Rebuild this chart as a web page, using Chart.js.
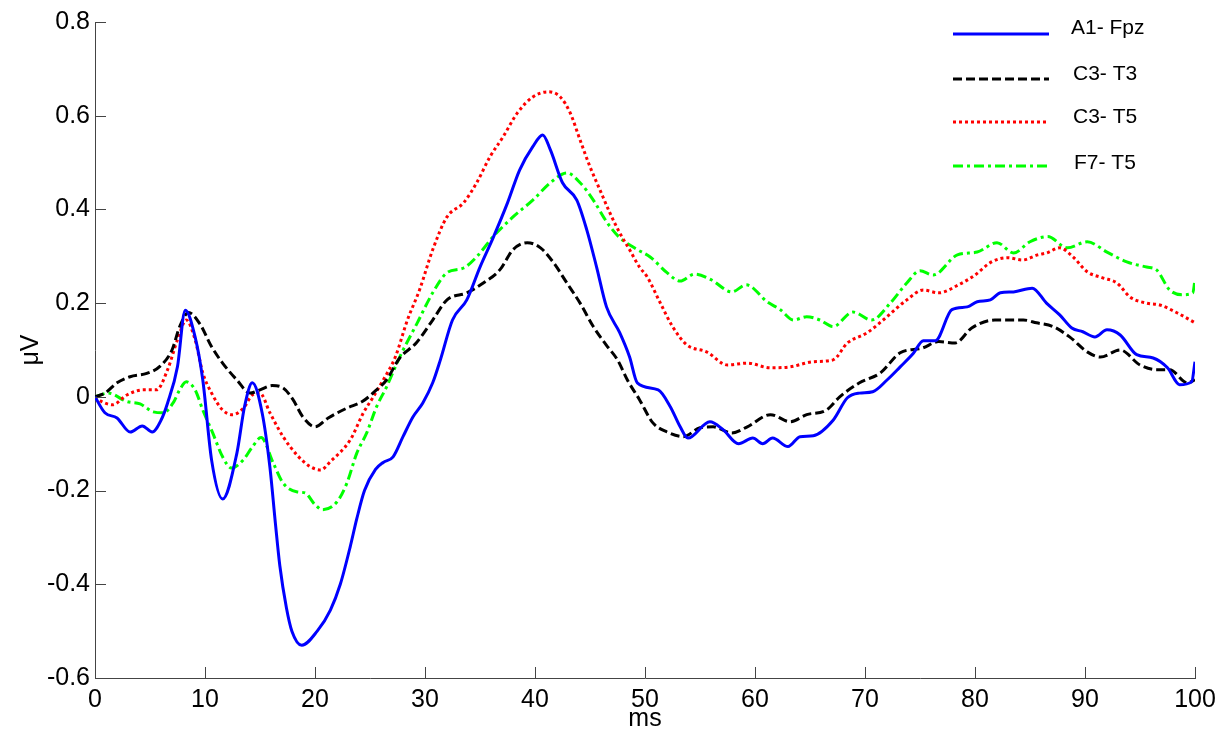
<!DOCTYPE html>
<html>
<head>
<meta charset="utf-8">
<script src="https://cdn.jsdelivr.net/npm/chart.js@4.4.1/dist/chart.umd.min.js"></script>
<style>
  body { margin: 0; background: #fff; }
  #c { display: block; }
</style>
</head>
<body>
<canvas id="c" width="1229" height="734"></canvas>
<script>
// tick labels
const xTicks = [0, 10, 20, 30, 40, 50, 60, 70, 80, 90, 100];
const yTicks = [-0.6, -0.4, -0.2, 0, 0.2, 0.4, 0.6, 0.8];

const seriesNames = ['A1- Fpz', 'C3- T3', 'C3- T5', 'F7- T5'];

// A1- Fpz (ms, uV)
const msA = [0, 0.9, 2, 3.2, 4.3, 5.2, 6, 6.6, 7.5, 8.2, 9.1, 9.8, 10.6, 11.6, 12.9, 13.6, 14.3, 15.2, 15.9, 16.4, 16.8, 17.4, 17.9, 18.8,
  20.2, 21.4, 22.3, 23.2, 23.8, 24.5, 25.5, 26.2, 27.1, 28, 28.9, 29.8, 30.7, 31.4, 32.5, 33.8, 35, 36.2, 37.5, 38.6, 39.8, 40.7,
  41.4, 42.5, 43.8, 44.7, 45.6, 46.5, 47.7, 48.6, 49.3, 51.2, 52.3, 53.2, 53.9, 55.9, 57.1, 58.5, 59.8, 60.7, 61.6, 63, 64.1, 65.3,
  67.1, 68.4, 69.5, 70.7, 72, 73.2, 74.4, 75.3, 76.4, 77.9, 79.3, 80.2, 81.4, 82.3, 83.5, 85.2, 86.5, 87.7, 88.8, 89.8, 90.9, 92,
  93.2, 94.7, 96.2, 97.5, 98.6, 99.7, 100];
const valA = [0, -0.034, -0.045, -0.075, -0.062, -0.075, -0.05, -0.013, 0.065, 0.185, 0.128, 0.036, -0.135, -0.218, -0.12, -0.02, 0.03, -0.035, -0.15, -0.27, -0.36, -0.45, -0.50, -0.53,
  -0.50, -0.455, -0.40, -0.32, -0.26, -0.20, -0.155, -0.14, -0.128, -0.085, -0.043, -0.013, 0.03, 0.079, 0.164, 0.207, 0.277, 0.34, 0.414, 0.484, 0.534, 0.559,
  0.527, 0.457, 0.42, 0.357, 0.277, 0.192, 0.137, 0.085, 0.03, 0.015, -0.021, -0.064, -0.088, -0.053, -0.07, -0.10, -0.088, -0.10, -0.088, -0.106, -0.085, -0.083,
  -0.05, -0.002, 0.008, 0.011, 0.036, 0.064, 0.093, 0.12, 0.12, 0.186, 0.192, 0.203, 0.207, 0.222, 0.224, 0.232, 0.20, 0.175, 0.147, 0.139, 0.128, 0.143,
  0.132, 0.09, 0.083, 0.062, 0.026, 0.032, 0.075];

// C3- T3
const msB = [0, 0.9, 2, 3.2, 4.7, 5.9, 7, 7.7, 8.5, 9.5, 10.6, 11.6, 12.9, 14.1, 15, 16.1, 17.1, 18, 18.9, 20, 21.2, 22.9, 24.3, 25.6,
  26.5, 27.7, 29.2, 30.7, 32, 33.8, 35.3, 36.8, 38, 39.3, 40.5, 41.7, 42.9, 44.1, 45.3, 46.5, 47.5, 48.4, 49.5, 50.7, 52, 53.5,
  55, 56.2, 57.9, 59.3, 61.4, 63.2, 64.7, 66.5, 67.7, 69.5, 71.4, 73.2, 75.2, 76.7, 78.2, 79.7, 81.8, 84.4, 85.6, 87.1, 88.6, 90.2,
  91.4, 93.2, 95, 96.5, 97.7, 99.3, 100];
const valB = [0, 0.008, 0.03, 0.043, 0.05, 0.065, 0.10, 0.15, 0.18, 0.157, 0.107, 0.072, 0.036, 0.008, 0.015, 0.024, 0.019, -0.006, -0.043, -0.064, -0.045, -0.024, -0.01, 0.015,
  0.036, 0.083, 0.115, 0.164, 0.207, 0.222, 0.243, 0.271, 0.314, 0.329, 0.318, 0.286, 0.243, 0.2, 0.15, 0.11, 0.079, 0.036, -0.006, -0.055, -0.075, -0.085,
  -0.066, -0.064, -0.077, -0.064, -0.038, -0.053, -0.038, -0.028, 0, 0.03, 0.051, 0.094, 0.104, 0.118, 0.115, 0.147, 0.164, 0.164, 0.158, 0.15, 0.128, 0.096,
  0.085, 0.1, 0.068, 0.058, 0.058, 0.03, 0.036];

// C3- T5
const msC = [0, 0.6, 1.6, 2.9, 4.4, 5.6, 6.6, 7.5, 8.3, 9.1, 9.8, 10.6, 11.6, 12.5, 13.5, 14.3, 15, 15.9, 17.1, 18.4, 19.5, 20.5, 21.4, 23.2,
  24.4, 25.3, 26.2, 27.3, 28.4, 29.5, 30.7, 32, 33.5, 34.7, 35.9, 37.1, 38.4, 39.8, 41.2, 42.3, 43.2, 44.1, 45, 45.9, 46.8, 47.7,
  48.6, 49.5, 50.2, 51.4, 52.5, 53.8, 55.6, 57.5, 59.3, 61.4, 63.2, 65.3, 67.1, 68.4, 70.2, 72, 73.8, 75.3, 76.7, 78.5, 80, 81.5,
  83, 84.3, 85.7, 86.5, 87.7, 88.9, 90.2, 91.6, 92.9, 94.1, 95.6, 96.8, 98.4, 100];
const valC = [0, -0.01, -0.017, 0.004, 0.015, 0.015, 0.058, 0.122, 0.164, 0.122, 0.051, 0.008, -0.028, -0.038, -0.024, 0.004, 0.008, -0.034, -0.085, -0.125, -0.148, -0.156, -0.138, -0.092,
  -0.034, 0, 0.036, 0.085, 0.164, 0.228, 0.314, 0.384, 0.414, 0.457, 0.512, 0.555, 0.606, 0.64, 0.651, 0.64, 0.606, 0.548, 0.491, 0.442, 0.393, 0.35,
  0.314, 0.277, 0.256, 0.2, 0.15, 0.111, 0.096, 0.068, 0.072, 0.062, 0.064, 0.075, 0.079, 0.115, 0.137, 0.171, 0.207, 0.228, 0.222, 0.239, 0.26, 0.288,
  0.297, 0.292, 0.303, 0.307, 0.318, 0.299, 0.267, 0.254, 0.243, 0.213, 0.2, 0.196, 0.179, 0.158];

// F7- T5
const msD = [0, 1.2, 2.9, 4.1, 5.3, 6.2, 7.1, 7.7, 8.3, 9.1, 9.8, 10.7, 11.6, 12.4, 13.5, 14.3, 15.1, 16.2, 17.1, 18.4, 19.1, 20, 20.7, 22,
  22.9, 23.8, 24.7, 25.6, 26.5, 27.7, 29.3, 30.7, 32, 33.5, 34.7, 36.2, 38, 39.8, 41.4, 42.9, 44.1, 45.3, 46.5, 47.6, 49.1, 50.5,
  52, 53.2, 54.5, 56, 57.9, 59.2, 61.1, 62.3, 63.5, 64.7, 65.9, 67.1, 68.9, 70.6, 72.3, 73.8, 75, 76.2, 78.4, 80.2, 82, 83.5,
  85, 86.6, 88.4, 90.2, 92, 93.8, 95.6, 96.5, 97.7, 98.9, 99.8, 100];
const valD = [0, 0.008, -0.01, -0.015, -0.032, -0.034, -0.013, 0.015, 0.032, 0.015, -0.028, -0.077, -0.128, -0.152, -0.134, -0.107, -0.087, -0.141, -0.184, -0.203, -0.205, -0.23, -0.241, -0.224,
  -0.184, -0.12, -0.077, -0.021, 0.021, 0.085, 0.158, 0.222, 0.265, 0.275, 0.299, 0.342, 0.384, 0.42, 0.457, 0.478, 0.457, 0.42, 0.374, 0.342, 0.317, 0.298,
  0.265, 0.247, 0.262, 0.25, 0.224, 0.239, 0.203, 0.186, 0.164, 0.171, 0.164, 0.15, 0.181, 0.164, 0.2, 0.243, 0.269, 0.26, 0.303, 0.309, 0.329, 0.307,
  0.331, 0.342, 0.318, 0.331, 0.309, 0.288, 0.277, 0.271, 0.228, 0.218, 0.222, 0.25];

const FONT = '"Liberation Sans", Arial, sans-serif';
const AXIS = '#444';

function pts(xs, ys) { return xs.map((x, i) => ({x: x, y: ys[i]})); }

function line(label, data, color, dash) {
  return {label, data, borderColor: color, borderWidth: 3, borderDash: dash,
    pointRadius: 0, fill: false, cubicInterpolationMode: 'monotone'};
}

// inward tick marks, placed via the scales
const innerTicks = {
  id: 'innerTicks',
  afterDraw(chart) {
    const ctx = chart.ctx, a = chart.chartArea;
    const xs = chart.scales.x, ys = chart.scales.y;
    ctx.save();
    ctx.strokeStyle = AXIS;
    ctx.lineWidth = 1;
    ctx.beginPath();
    xTicks.forEach(v => {
      const p = Math.round(xs.getPixelForValue(v)) + 0.5;
      ctx.moveTo(p, a.bottom); ctx.lineTo(p, a.bottom - 11);
    });
    yTicks.forEach(v => {
      const p = Math.round(ys.getPixelForValue(v)) + 0.5;
      ctx.moveTo(a.left, p); ctx.lineTo(a.left + 11, p);
    });
    ctx.stroke();
    ctx.restore();
  }
};

// legend in the top right corner, no frame
const cornerLegend = {
  id: 'cornerLegend',
  afterDraw(chart) {
    const ctx = chart.ctx;
    const rows = [{ly: 34, ty: 28, tx: 1071}, {ly: 79, ty: 74, tx: 1073}, {ly: 122, ty: 117, tx: 1073}, {ly: 166, ty: 163, tx: 1074}];
    ctx.save();
    chart.data.datasets.forEach((ds, i) => {
      const r = rows[i];
      ctx.strokeStyle = ds.borderColor;
      ctx.lineWidth = 3;
      ctx.setLineDash(ds.borderDash || []);
      ctx.beginPath();
      ctx.moveTo(953, r.ly); ctx.lineTo(1049, r.ly);
      ctx.stroke();
      ctx.setLineDash([]);
      ctx.fillStyle = '#000';
      ctx.font = '21px ' + FONT;
      ctx.textBaseline = 'middle';
      ctx.fillText(seriesNames[i], r.tx, r.ty);
    });
    ctx.restore();
  }
};

new Chart(document.getElementById('c').getContext('2d'), {
  type: 'line',
  data: {
    datasets: [
      line(seriesNames[0], pts(msA, valA), '#0000ff', []),
      line(seriesNames[1], pts(msB, valB), '#000000', [9, 4]),
      line(seriesNames[2], pts(msC, valC), '#ff0000', [3, 3]),
      line(seriesNames[3], pts(msD, valD), '#00ff00', [10, 4, 3, 4])
    ]
  },
  options: {
    responsive: false,
    animation: false,
    devicePixelRatio: 1,
    layout: {padding: {top: 22, right: 34, left: 0, bottom: 0}},
    plugins: {legend: {display: false}, tooltip: {enabled: false}},
    scales: {
      x: {
        type: 'linear', min: 0, max: 100,
        afterBuildTicks: s => { s.ticks = xTicks.map(v => ({value: v})); },
        afterFit: s => { s.height = 56; },
        grid: {display: false, drawTicks: false, tickLength: 0},
        border: {display: true, color: AXIS, width: 1},
        ticks: {color: '#000', font: {family: FONT, size: 25}, padding: 7, maxRotation: 0, autoSkip: false},
        title: {display: true, text: 'ms', color: '#000', font: {family: FONT, size: 25}, padding: 0}
      },
      y: {
        type: 'linear', min: -0.6, max: 0.8,
        afterBuildTicks: s => { s.ticks = yTicks.map(v => ({value: v})); },
        afterFit: s => { s.width = 95; },
        grid: {display: false, drawTicks: false, tickLength: 0},
        border: {display: true, color: AXIS, width: 1},
        ticks: {color: '#000', font: {family: FONT, size: 25}, padding: 5, autoSkip: false,
          callback: v => (Math.abs(v) < 1e-9 ? '0' : String(Math.round(v * 10) / 10))},
        title: {display: true, text: 'μV', color: '#000', font: {family: FONT, size: 25}, padding: {top: 16, bottom: 0}}
      }
    }
  },
  plugins: [innerTicks, cornerLegend]
});
</script>
</body>
</html>
